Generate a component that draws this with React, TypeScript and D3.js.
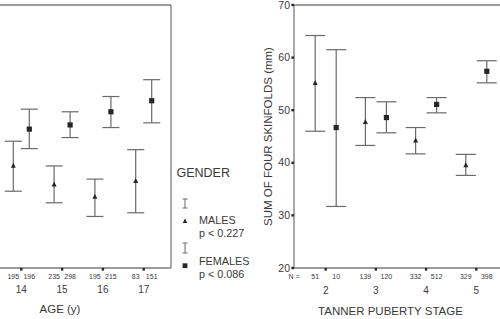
import React from "react";
import * as d3 from "d3";

const ages = [14, 15, 16, 17];
const ageMaleN = [195, 235, 195, 83];
const ageFemaleN = [196, 298, 215, 151];
const ageMaleMean = [39.5, 35.9, 33.6, 36.6];
const ageMaleLow = [34.6, 32.4, 29.8, 30.5];
const ageMaleHigh = [44.1, 39.4, 36.9, 42.5];
const ageFemaleMean = [46.4, 47.2, 49.7, 51.8];
const ageFemaleLow = [42.7, 44.8, 46.7, 47.6];
const ageFemaleHigh = [50.2, 49.7, 52.6, 55.8];

const stages = [2, 3, 4, 5];
const stageMaleN = [51, 139, 332, 329];
const stageFemaleN = [10, 120, 512, 398];
const stageMaleMean = [55.2, 47.8, 44.3, 39.6];
const stageMaleLow = [46.0, 43.3, 41.7, 37.6];
const stageMaleHigh = [64.2, 52.4, 46.7, 41.6];
const stageFemaleMean = [46.7, 48.6, 51.1, 57.4];
const stageFemaleLow = [31.7, 45.7, 49.5, 55.2];
const stageFemaleHigh = [61.5, 51.6, 52.4, 59.4];

const yTicks = [20, 30, 40, 50, 60, 70];

const FONT = "'Liberation Sans', Arial, Helvetica, sans-serif";
const TEXT = "#3a3a3a";
const LINE = "#7a7a7a";
const BAR = "#6a6a6a";
const MARK = "#262626";

const TOP = 5;
const BOTTOM = 268;
const y = d3.scaleLinear().domain([20, 70]).range([BOTTOM, TOP]);
const xLeft = d3.scaleLinear().domain([14, 17]).range([21.3, 143.7]);
const xRight = d3.scaleLinear().domain([2, 5]).range([325.7, 476.3]);

function Tri({ cx, cy, s }: { cx: number; cy: number; s: number }) {
  const h = s * 0.9;
  return (
    <path
      d={`M${cx},${cy - h / 2 - 0.5} L${cx + s / 2},${cy + h / 2} L${cx - s / 2},${cy + h / 2} Z`}
      fill={MARK}
    />
  );
}

function ErrBar({ x, lo, hi, cap }: { x: number; lo: number; hi: number; cap: number }) {
  return (
    <g stroke={BAR} strokeWidth={1.2} fill="none">
      <line x1={x} x2={x} y1={y(hi)} y2={y(lo)} />
      <line x1={x - cap / 2} x2={x + cap / 2} y1={y(hi)} y2={y(hi)} />
      <line x1={x - cap / 2} x2={x + cap / 2} y1={y(lo)} y2={y(lo)} />
    </g>
  );
}

export default function App() {
  const leftOff = 8;
  const rightOff = 10.5;
  return (
    <svg
      width={500}
      height={319}
      style={{ position: "absolute", left: 0, top: 0, background: "#fff" }}
      fontFamily={FONT}
    >
      <rect x={0} y={0} width={500} height={319} fill="#fff" />
      {/* Left panel frame */}
      <g stroke={LINE} strokeWidth={1.3} fill="none">
        <line x1={-20} x2={171} y1={TOP} y2={TOP} />
        <line x1={171} x2={171} y1={TOP} y2={BOTTOM} />
        <line x1={-20} x2={171} y1={BOTTOM} y2={BOTTOM} />
      </g>
      {ages.map((a, i) => (
        <g key={"la" + a}>
          <rect x={xLeft(a) - 1.2} y={BOTTOM} width={2.4} height={2.6} fill={MARK} />
          <text x={xLeft(a) - leftOff} y={278.5} fontSize={7} textAnchor="middle" fill={TEXT}>
            {ageMaleN[i]}
          </text>
          <text x={xLeft(a) + leftOff} y={278.5} fontSize={7} textAnchor="middle" fill={TEXT}>
            {ageFemaleN[i]}
          </text>
          <text x={xLeft(a)} y={292.5} fontSize={10} textAnchor="middle" fill={TEXT}>
            {a}
          </text>
          <ErrBar x={xLeft(a) - leftOff} lo={ageMaleLow[i]} hi={ageMaleHigh[i]} cap={17} />
          <Tri cx={xLeft(a) - leftOff} cy={y(ageMaleMean[i])} s={5} />
          <ErrBar x={xLeft(a) + leftOff} lo={ageFemaleLow[i]} hi={ageFemaleHigh[i]} cap={17} />
          <rect
            x={xLeft(a) + leftOff - 2.6}
            y={y(ageFemaleMean[i]) - 2.6}
            width={5.2}
            height={5.2}
            fill={MARK}
          />
        </g>
      ))}
      <text x={60} y={313} fontSize={11.5} textAnchor="middle" fill={TEXT}>
        AGE (y)
      </text>

      {/* Legend */}
      <text x={176.5} y={176.5} fontSize={12.5} fill={TEXT}>
        GENDER
      </text>
      <g stroke={BAR} strokeWidth={1} fill="none">
        <line x1={185} x2={185} y1={199} y2={208} />
        <line x1={182.5} x2={187.5} y1={199} y2={199} />
        <line x1={182.5} x2={187.5} y1={208} y2={208} />
        <line x1={185} x2={185} y1={243} y2={253} />
        <line x1={182.5} x2={187.5} y1={243} y2={243} />
        <line x1={182.5} x2={187.5} y1={253} y2={253} />
      </g>
      <Tri cx={185} cy={221} s={4.5} />
      <rect x={182.6} y={263.3} width={4.8} height={4.8} fill={MARK} />
      <text x={199} y={224} fontSize={10.8} fill={TEXT}>
        MALES
      </text>
      <text x={199} y={237} fontSize={10.8} fill={TEXT}>
        p &lt; 0.227
      </text>
      <text x={199} y={265} fontSize={10.8} fill={TEXT}>
        FEMALES
      </text>
      <text x={199} y={278} fontSize={10.8} fill={TEXT}>
        p &lt; 0.086
      </text>

      {/* Right panel frame */}
      <g stroke={LINE} strokeWidth={1.3} fill="none">
        <line x1={294} x2={520} y1={TOP} y2={TOP} />
        <line x1={294} x2={294} y1={TOP} y2={BOTTOM} />
        <line x1={294} x2={520} y1={BOTTOM} y2={BOTTOM} />
      </g>
      {yTicks.map((t) => (
        <g key={"yt" + t}>
          <rect x={291.4} y={y(t) - 1.2} width={2.6} height={2.4} fill={MARK} />
          <text x={290} y={y(t) + 3.6} fontSize={10.5} textAnchor="end" fill={TEXT}>
            {t}
          </text>
        </g>
      ))}
      <text
        transform={`translate(272,${(TOP + BOTTOM) / 2}) rotate(-90)`}
        fontSize={11.5}
        textAnchor="middle"
        fill={TEXT}
      >
        SUM OF FOUR SKINFOLDS (mm)
      </text>
      <text x={294} y={278.5} fontSize={7} textAnchor="middle" fill={TEXT}>
        N =
      </text>
      {stages.map((s, i) => (
        <g key={"st" + s}>
          <rect x={xRight(s) - 1.2} y={BOTTOM} width={2.4} height={2.6} fill={MARK} />
          <text x={xRight(s) - rightOff} y={278.5} fontSize={7} textAnchor="middle" fill={TEXT}>
            {stageMaleN[i]}
          </text>
          <text x={xRight(s) + rightOff} y={278.5} fontSize={7} textAnchor="middle" fill={TEXT}>
            {stageFemaleN[i]}
          </text>
          <text x={xRight(s)} y={294} fontSize={10} textAnchor="middle" fill={TEXT}>
            {s}
          </text>
          <ErrBar x={xRight(s) - rightOff} lo={stageMaleLow[i]} hi={stageMaleHigh[i]} cap={20} />
          <Tri cx={xRight(s) - rightOff} cy={y(stageMaleMean[i])} s={5} />
          <ErrBar x={xRight(s) + rightOff} lo={stageFemaleLow[i]} hi={stageFemaleHigh[i]} cap={20} />
          <rect
            x={xRight(s) + rightOff - 2.6}
            y={y(stageFemaleMean[i]) - 2.6}
            width={5.2}
            height={5.2}
            fill={MARK}
          />
        </g>
      ))}
      <text x={390.5} y={315} fontSize={11.5} textAnchor="middle" fill={TEXT}>
        TANNER PUBERTY STAGE
      </text>
    </svg>
  );
}
